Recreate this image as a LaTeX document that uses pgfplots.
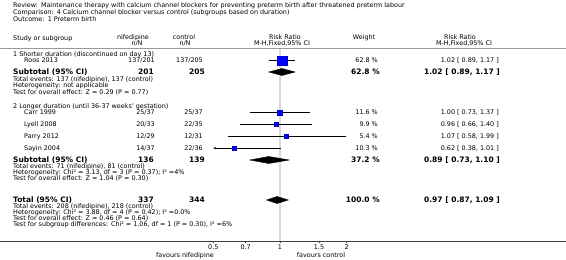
\documentclass[border=0pt]{standalone}
\usepackage{fontspec}
\setmainfont{DejaVu Sans}
\usepackage{pgfplots}
\pgfplotsset{compat=1.18}
\usetikzlibrary{arrows.meta}
\newcommand{\fs}{\fontsize{6.4}{7.5}\selectfont}
\newcommand{\fb}{\fontsize{7.5}{8.5}\selectfont\bfseries}
% text helpers: x pixel, y pixel (visual centre of line), text
\newcommand{\TL}[3]{\node[anchor=base west,inner sep=0pt,font=\fs] at (#1pt,{241pt-#2pt-2.2pt}) {#3};}
\newcommand{\TR}[3]{\node[anchor=base east,inner sep=0pt,font=\fs] at (#1pt,{241pt-#2pt-2.2pt}) {#3};}
\newcommand{\TC}[3]{\node[anchor=base,inner sep=0pt,font=\fs] at (#1pt,{241pt-#2pt-2.2pt}) {#3};}
\newcommand{\BL}[3]{\node[anchor=base west,inner sep=0pt,font=\fb] at (#1pt,{241pt-#2pt-2.7pt}) {#3};}
\newcommand{\BR}[3]{\node[anchor=base east,inner sep=0pt,font=\fb] at (#1pt,{241pt-#2pt-2.7pt}) {#3};}
\begin{document}
\begin{tikzpicture}
\begin{axis}[
  scale only axis,
  width=566pt, height=241pt,
  at={(0pt,0pt)}, anchor=south west,
  xmode=log,
  xmin=0.05443, xmax=19.55,
  ymin=0, ymax=241,
  axis x line=bottom,
  axis y line=none,
  axis line style={-, draw=black!75, line width=0.6pt},
  xtick={0.5,0.7,1,1.5,2},
  xticklabels={0.5,0.7,1,1.5,2},
  minor xtick={},
  tick align=outside,
  major tick length=2.5pt,
  tick style={draw=black!75, line width=0.5pt},
  xticklabel style={font=\fs, inner sep=0pt, yshift=-1.2pt},
  clip=false,
]
% line of no effect
\addplot[draw=black!15, line width=2.5pt] coordinates {(1,0) (1,191.5)};
% confidence intervals
\addplot[black, line width=0.5pt] coordinates {(0.89,180.5) (1.17,180.5)};
\addplot[black, line width=0.5pt] coordinates {(0.73,128.5) (1.37,128.5)};
\addplot[black, line width=0.5pt] coordinates {(0.66,116.5) (1.40,116.5)};
\addplot[black, line width=0.5pt] coordinates {(0.58,104.5) (1.99,104.5)};
% Sayin 2004: 0.62 [0.38, 1.01], lower limit beyond the scale (0.5)
\addplot[black, line width=0.5pt, -{Stealth[length=2.5pt,width=2.5pt]}] coordinates {(1.01,93) (0.5,93)};
% study estimates
\addplot[only marks, mark=square*, mark size=4.8pt, mark options={fill=blue, draw=blue!80!black, line width=0.3pt}] coordinates {(1.02,180.5)};
\addplot[only marks, mark=square*, mark size=2.4pt, mark options={fill=blue, draw=blue!80!black, line width=0.3pt}] coordinates {(1.00,128.5)};
\addplot[only marks, mark=square*, mark size=2.1pt, mark options={fill=blue, draw=blue!80!black, line width=0.3pt}] coordinates {(0.96,116.5)};
\addplot[only marks, mark=square*, mark size=2.0pt, mark options={fill=blue, draw=blue!80!black, line width=0.3pt}] coordinates {(1.07,104.5)};
\addplot[only marks, mark=square*, mark size=2.2pt, mark options={fill=blue, draw=blue!80!black, line width=0.3pt}] coordinates {(0.62,93)};
% pooled diamonds
\addplot[fill=black, draw=black] coordinates {(0.89,169) (1.02,172.5) (1.17,169) (1.02,165.5)} -- cycle;
\addplot[fill=black, draw=black] coordinates {(0.73,81) (0.89,84.5) (1.10,81) (0.89,77.5)} -- cycle;
\addplot[fill=black, draw=black] coordinates {(0.87,41) (0.97,44.5) (1.09,41) (0.97,37.5)} -- cycle;
\end{axis}
% header
\TL{13}{5.5}{Review:\enspace Maintenance therapy with calcium channel blockers for preventing preterm birth after threatened preterm labour}
\TL{13}{12.5}{Comparison:\enspace 4 Calcium channel blocker versus control (subgroups based on duration)}
\TL{13}{19.5}{Outcome:\enspace 1 Preterm birth}
\TL{13}{38}{Study or subgroup}
\TC{133}{37.5}{nifedipine}
\TC{137}{43.5}{n/N}
\TC{184}{37.5}{control}
\TC{185}{43.5}{n/N}
\TC{285}{37.5}{Risk Ratio}
\TC{282}{43.5}{M-H,Fixed,95\% CI}
\TC{364}{37.5}{Weight}
\TC{460}{37.5}{Risk Ratio}
\TC{464}{43.5}{M-H,Fixed,95\% CI}
\draw[black!40, line width=1.5pt] (0pt,{241pt-48.5pt}) -- (566pt,{241pt-48.5pt});
% group 1
\TL{13}{54}{1 Shorter duration (discontinued on day 13)}
\TL{24}{60.5}{Roos 2013}\TR{155}{60.5}{137/201}\TR{203}{60.5}{137/205}\TR{378}{60.5}{62.8 \%}\TR{499}{60.5}{1.02 [ 0.89, 1.17 ]}
\BL{13}{72}{Subtotal (95\% CI)}\BR{154}{72}{201}\BR{205}{72}{205}\BR{380}{72}{62.8 \%}\BR{500}{72}{1.02 [ 0.89, 1.17 ]}
\TL{13}{79}{Total events: 137 (nifedipine), 137 (control)}
\TL{13}{85.5}{Heterogeneity: not applicable}
\TL{13}{92}{Test for overall effect: Z = 0.29 (P = 0.77)}
% group 2
\TL{13}{106}{2 Longer duration (until 36-37 weeks' gestation)}
\TL{24}{112.5}{Carr 1999}\TR{155}{112.5}{25/37}\TR{203}{112.5}{25/37}\TR{378}{112.5}{11.6 \%}\TR{499}{112.5}{1.00 [ 0.73, 1.37 ]}
\TL{24}{124.5}{Lyell 2008}\TR{155}{124.5}{20/33}\TR{203}{124.5}{22/35}\TR{378}{124.5}{9.9 \%}\TR{499}{124.5}{0.96 [ 0.66, 1.40 ]}
\TL{24}{136.5}{Parry 2012}\TR{155}{136.5}{12/29}\TR{203}{136.5}{12/31}\TR{378}{136.5}{5.4 \%}\TR{499}{136.5}{1.07 [ 0.58, 1.99 ]}
\TL{24}{148}{Sayin 2004}\TR{155}{148}{14/37}\TR{203}{148}{22/36}\TR{378}{148}{10.3 \%}\TR{499}{148}{0.62 [ 0.38, 1.01 ]}
\BL{13}{160}{Subtotal (95\% CI)}\BR{154}{160}{136}\BR{205}{160}{139}\BR{380}{160}{37.2 \%}\BR{500}{160}{0.89 [ 0.73, 1.10 ]}
\TL{13}{166.5}{Total events: 71 (nifedipine), 81 (control)}
\TL{13}{172.5}{Heterogeneity: Chi² = 3.13, df = 3 (P = 0.37); I² =4\%}
\TL{13}{178.5}{Test for overall effect: Z = 1.04 (P = 0.30)}
% total
\BL{13}{200}{Total (95\% CI)}\BR{154}{200}{337}\BR{205}{200}{344}\BR{380}{200}{100.0 \%}\BR{500}{200}{0.97 [ 0.87, 1.09 ]}
\TL{13}{206.5}{Total events: 208 (nifedipine), 218 (control)}
\TL{13}{212.5}{Heterogeneity: Chi² = 3.88, df = 4 (P = 0.42); I² =0.0\%}
\TL{13}{218.5}{Test for overall effect: Z = 0.46 (P = 0.64)}
\TL{13}{224.5}{Test for subgroup differences: Chi² = 1.06, df = 1 (P = 0.30), I² =6\%}
% favours
\TC{185}{255}{favours nifedipine}
\TC{321}{255}{favours control}
\pgfresetboundingbox
\path[use as bounding box] (0pt,-19pt) rectangle (566pt,241pt);
\end{tikzpicture}
\end{document}
